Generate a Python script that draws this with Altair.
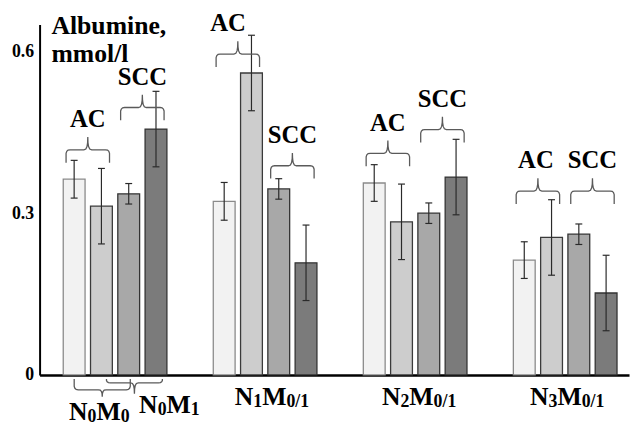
import altair as alt
import pandas as pd

# ---------------- data ----------------
groups = ["N0M0 / N0M1", "N1M0/1", "N2M0/1", "N3M0/1"]
series = ["AC 1", "AC 2", "SCC 1", "SCC 2"]
mean_1 = [0.363, 0.322, 0.356, 0.213]
mean_2 = [0.313, 0.560, 0.284, 0.255]
mean_3 = [0.336, 0.345, 0.300, 0.261]
mean_4 = [0.456, 0.208, 0.367, 0.152]
err_1 = [0.035, 0.035, 0.034, 0.034]
err_2 = [0.070, 0.070, 0.070, 0.070]
err_3 = [0.019, 0.019, 0.019, 0.019]
err_4 = [0.070, 0.070, 0.070, 0.070]
y_ticks = [0, 0.3, 0.6]
y_title = ["Albumine,", "mmol/l"]
pair_labels = ["AC", "SCC"]
x_labels = [
    [("N", "big"), ("0", "small"), ("M", "big"), ("0", "small")],
    [("N", "big"), ("0", "small"), ("M", "big"), ("1", "small")],
    [("N", "big"), ("1", "small"), ("M", "big"), ("0/1", "small")],
    [("N", "big"), ("2", "small"), ("M", "big"), ("0/1", "small")],
    [("N", "big"), ("3", "small"), ("M", "big"), ("0/1", "small")],
]
# brace levels (albumine units) above each AC / SCC pair, per group
ac_brace_level = [0.4175, 0.595, 0.411, 0.341]
scc_brace_level = [0.496, 0.388, 0.455, 0.341]

# ---------------- layout / style ----------------
W, H = 597, 355
PAD = {"left": 32, "top": 14, "right": 2, "bottom": 48}
PX = 27.63            # pixels per bar slot
GROUP_STEP = 5.5      # slots per group
BAR_HALF = 0.4
X_MIN = -35 / PX
X_MAX = X_MIN + W / PX
Y_MAX = 0.65
PY = H / Y_MAX
FONT = "Liberation Serif"

fills = ["#f2f2f2", "#cdcdcd", "#a8a8a8", "#7b7b7b"]
strokes = ["#8a8a8a", "#3a3a3a", "#333333", "#333333"]

means = [mean_1, mean_2, mean_3, mean_4]
errs = [err_1, err_2, err_3, err_4]

rows = []
for g, grp in enumerate(groups):
    for s, ser in enumerate(series):
        pos = g * GROUP_STEP + s
        m, e = means[s][g], errs[s][g]
        rows.append(dict(group=grp, series=ser, pos=pos, x0=pos - BAR_HALF,
                         x1=pos + BAR_HALF, mean=m, zero=0.0, lo=m - e, hi=m + e,
                         c0=pos - 3.5 / PX, c1=pos + 3.5 / PX))
bars_df = pd.DataFrame(rows)


def brace(bid, cx, level, hw, end, tip, sign):
    left = [(-hw, -end), (-hw, -min(3.5, end * 0.6)), (-hw + 0.7, -min(1.5, end * 0.3)),
            (-hw + 2, -0.3), (-hw + 4, 0), (-4, 0), (-2, tip * 0.06),
            (-0.8, tip * 0.25), (-0.2, tip * 0.55), (0, tip)]
    right = [(-x, y) for (x, y) in reversed(left[:-1])]
    pts = left + right
    return [dict(id=bid, k=i, x=cx + px / PX, y=level + sign * py / PY)
            for i, (px, py) in enumerate(pts)]


brace_rows = []
label_rows = []
ac_dx = [0, -10, 0, -2]
for g in range(len(groups)):
    for k, lab in enumerate(pair_labels):
        cx = g * GROUP_STEP + 0.5 + 2 * k
        lvl = (ac_brace_level if k == 0 else scc_brace_level)[g]
        brace_rows += brace(f"t{g}{k}", cx, lvl, 22, 13, 13, 1)
        dx = ac_dx[g] if k == 0 else 0
        label_rows.append(dict(text=lab, x=cx + dx / PX, y=lvl + 23 / PY))
# bottom braces for N0M0 / N0M1
gc0 = 1.5
brace_rows += brace("b0", gc0 - 13 / PX, -15 / PY, 28.4, 11, 7, -1)
brace_rows += brace("b1", gc0 + 19.6 / PX, -8 / PY, 28.3, 4, 11, -1)
brace_df = pd.DataFrame(brace_rows)
pair_df = pd.DataFrame(label_rows)

# x labels built from mixed-size parts
EM = {"N": 0.722, "M": 0.944, "/": 0.278}
SIZES = {"big": 26, "small": 18}
label_anchor = [(0, -16, 46), (0, 55, 39), (1, 7, 30), (2, 4, 30), (3, 2, 30)]
part_rows = []
for parts, (g, off, base) in zip(x_labels, label_anchor):
    widths = [sum(EM.get(c, 0.5) for c in t) * SIZES[sz] for t, sz in parts]
    start = -sum(widths) / 2
    cx = g * GROUP_STEP + 1.5 + off / PX
    cum = 0
    for (t, sz), w in zip(parts, widths):
        yb = -base - (2 if sz == "small" else 0)
        part_rows.append(dict(text=t, x=cx + (start + cum) / PX, y=yb / PY, fs=SIZES[sz]))
        cum += w
parts_df = pd.DataFrame(part_rows)

title_df = pd.DataFrame({
    "text": y_title,
    "x": [X_MIN + 12 / PX] * 2,
    "y": [Y_MAX - 9.7 / PY, Y_MAX - 38 / PY],
})

xs = alt.Scale(domain=[X_MIN, X_MAX], nice=False, zero=False)
ys = alt.Scale(domain=[0, Y_MAX], nice=False)

bars = alt.Chart(bars_df).mark_bar(strokeWidth=1.3).encode(
    x=alt.X("x0:Q", scale=xs, axis=alt.Axis(labels=False, ticks=False, title=None, grid=False,
                                              domainColor="black", domainWidth=2.5)),
    x2="x1:Q",
    y=alt.Y("mean:Q", scale=ys, axis=alt.Axis(values=y_ticks, format=".1~f", ticks=False,
                                               labelPadding=6, labelFont=FONT,
                                               labelFontWeight="bold", labelFontSize=18,
                                               labelColor="black", domainColor="black",
                                               domainWidth=2, title=None, grid=False)),
    y2="zero:Q",
    fill=alt.Fill("series:N", scale=alt.Scale(domain=series, range=fills), legend=None),
    stroke=alt.Stroke("series:N", scale=alt.Scale(domain=series, range=strokes), legend=None),
)

err = alt.Chart(bars_df).mark_rule(color="#2a2a2a", strokeWidth=1.2).encode(
    x=alt.X("pos:Q", title=None), y=alt.Y("lo:Q", title=None), y2="hi:Q")
cap_hi = alt.Chart(bars_df).mark_rule(color="#2a2a2a", strokeWidth=1.2).encode(
    x=alt.X("c0:Q", title=None), x2="c1:Q", y=alt.Y("hi:Q", title=None))
cap_lo = alt.Chart(bars_df).mark_rule(color="#2a2a2a", strokeWidth=1.2).encode(
    x=alt.X("c0:Q", title=None), x2="c1:Q", y=alt.Y("lo:Q", title=None))

braces = alt.Chart(brace_df).mark_line(color="#5a5a5a", strokeWidth=1.3).encode(
    x=alt.X("x:Q", title=None), y=alt.Y("y:Q", title=None),
    detail="id:N", order="k:Q")

pair_text = alt.Chart(pair_df).mark_text(font=FONT, fontWeight="bold", fontSize=25,
                                         align="center", baseline="alphabetic",
                                         color="black").encode(
    x=alt.X("x:Q", title=None), y=alt.Y("y:Q", title=None), text="text:N")

xlab_text = alt.Chart(parts_df).mark_text(font=FONT, fontWeight="bold", align="left",
                                          baseline="alphabetic", color="black").encode(
    x=alt.X("x:Q", title=None), y=alt.Y("y:Q", title=None), text="text:N",
    size=alt.Size("fs:Q", scale=None, legend=None))

title_text = alt.Chart(title_df).mark_text(font=FONT, fontWeight="bold", fontSize=26,
                                           align="left", baseline="alphabetic",
                                           color="black").encode(
    x=alt.X("x:Q", title=None), y=alt.Y("y:Q", title=None), text="text:N")

chart = alt.layer(bars, err, cap_hi, cap_lo, braces, pair_text, xlab_text, title_text).properties(
    width=W, height=H, autosize=alt.AutoSizeParams(type="none"), padding=PAD
).configure_view(stroke=None).configure_axis(grid=False)

chart.save("out.html", embed_options={"renderer": "svg", "actions": False})
